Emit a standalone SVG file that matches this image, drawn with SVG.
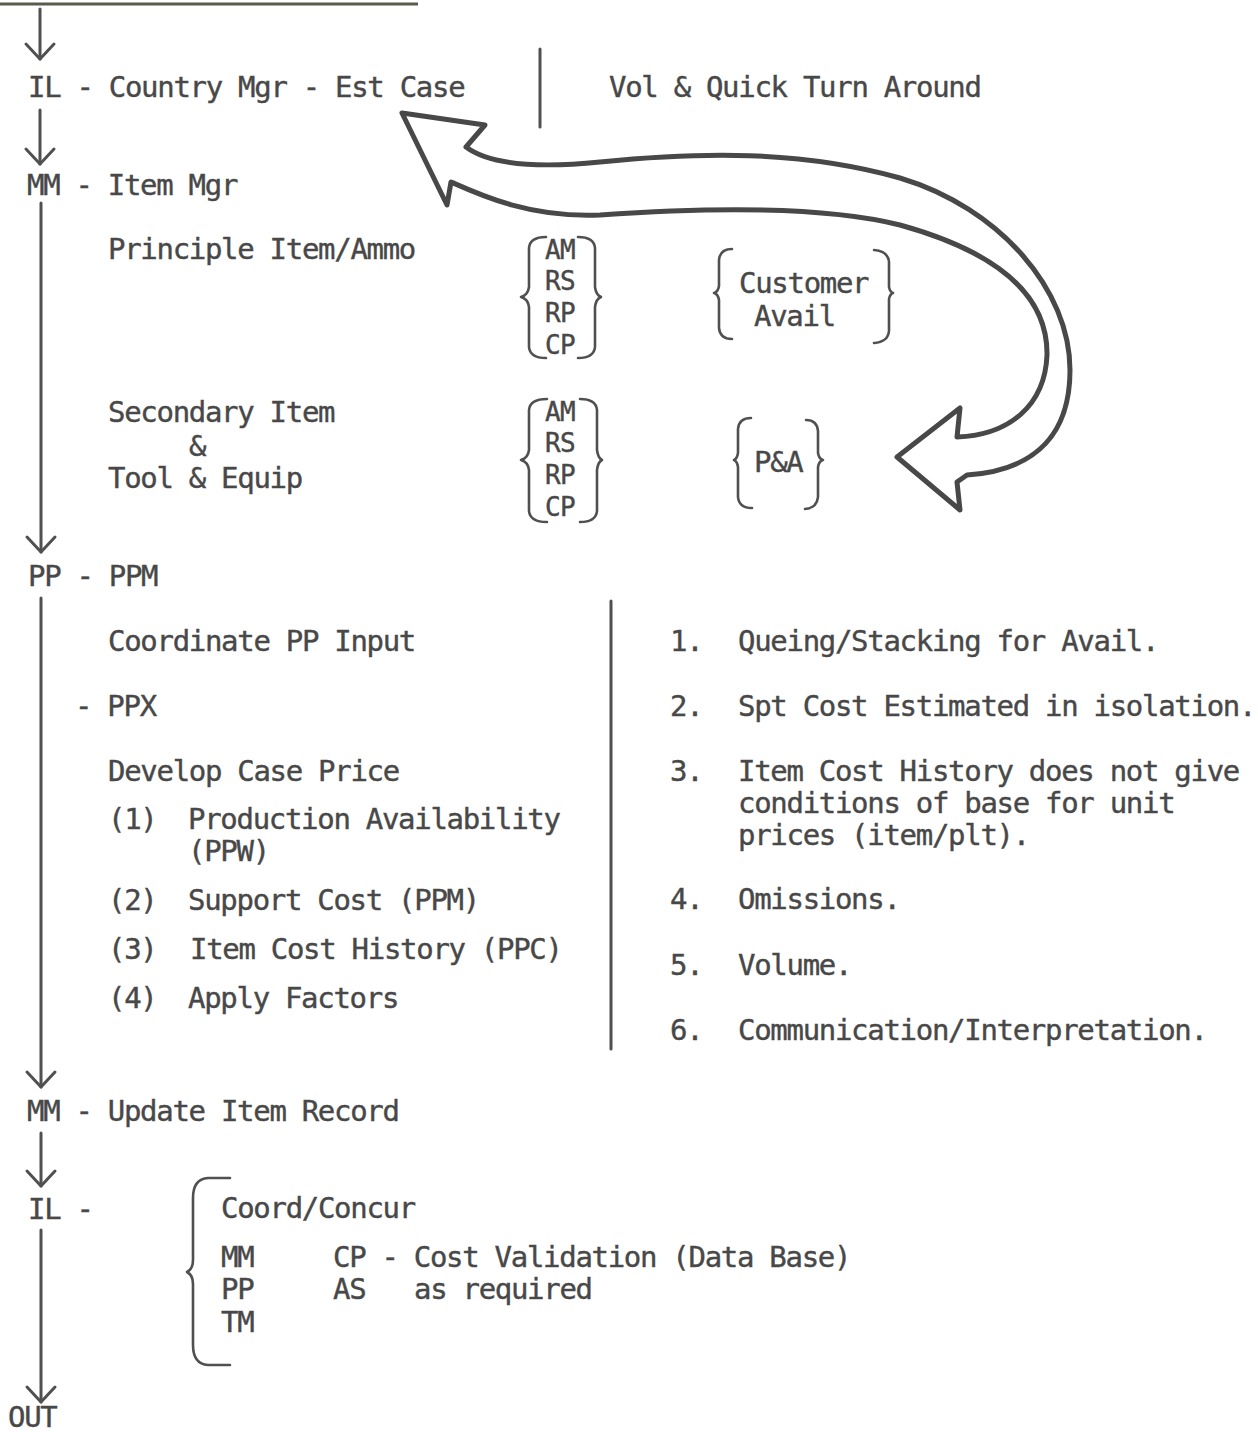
<svg xmlns="http://www.w3.org/2000/svg" width="1258" height="1432" viewBox="0 0 1258 1432">
<defs>
<style>
text{font-family:"DejaVu Sans Mono","Liberation Mono",monospace;font-size:29px;fill:#484848;stroke:#484848;stroke-width:0.4px;letter-spacing:-1.3px}
.sm{font-size:26px;letter-spacing:-0.6px}
.ln{stroke:#505050;stroke-width:3;fill:none;stroke-linecap:round}
.br{stroke:#505050;stroke-width:2.6;fill:none;stroke-linecap:round;stroke-linejoin:round}
.big{stroke:#484848;stroke-width:5;fill:none;stroke-linejoin:round}
</style>
<marker id="chev" viewBox="-20 -20 40 40" markerWidth="40" markerHeight="40" refX="0" refY="0" markerUnits="userSpaceOnUse" orient="auto" overflow="visible">
<path d="M -15 -14 L 0 0 L -15 14" fill="none" stroke="#505050" stroke-width="3" stroke-linecap="round" stroke-linejoin="round"/>
</marker>
</defs>
<rect width="1258" height="1432" fill="#ffffff"/>

<line x1="0" y1="4" x2="418" y2="4" stroke="#5a5a50" stroke-width="3"/>

<g id="connectors">
<line class="ln" x1="40" y1="9" x2="40" y2="59" marker-end="url(#chev)"/>
<line class="ln" x1="40" y1="110" x2="40" y2="164" marker-end="url(#chev)"/>
<line class="ln" x1="41" y1="203" x2="41" y2="552" marker-end="url(#chev)"/>
<line class="ln" x1="41" y1="598" x2="41" y2="1087" marker-end="url(#chev)"/>
<line class="ln" x1="41" y1="1133" x2="41" y2="1186" marker-end="url(#chev)"/>
<line class="ln" x1="41" y1="1230" x2="41" y2="1402" marker-end="url(#chev)"/>
<path id="feedback-arrow" class="big" d="M 402 113 L 485 125 L 466 147 C 490 165 540 168 600 162 C 700 152 800 150 900 178 C 1000 208 1070 290 1070 370 C 1070 430 1040 470 967 475 L 957 482 L 960 510 L 897 457 L 960 408 L 957 437 C 1010 435 1045 405 1047 355 C 1048 290 990 250 900 225 C 820 205 700 208 600 215 C 530 218 480 195 451 182 L 447 205 Z"/>
</g>

<g id="n-il-country">
<text x="28" y="97">IL - Country Mgr - Est Case</text>
</g>
<line class="ln" x1="540" y1="49" x2="540" y2="127"/>
<g id="n-vol">
<text x="609" y="97">Vol &amp; Quick Turn Around</text>
</g>

<g id="n-mm-item">
<text x="27" y="195">MM - Item Mgr</text>
</g>

<g id="n-principle">
<text x="108" y="259">Principle Item/Ammo</text>
</g>

<g id="n-stack1">
<path class="br" d="M 546 237 Q 530 237 529 248 L 529 287 Q 528 295 521 297 Q 528 299 529 307 L 529 347 Q 530 358 546 358"/>
<path class="br" d="M 578 237 Q 594 237 595 248 L 595 287 Q 596 295 601 297 Q 596 299 595 307 L 595 347 Q 594 358 578 358"/>
<text class="sm" x="545" y="259">AM</text>
<text class="sm" x="545" y="290">RS</text>
<text class="sm" x="545" y="322">RP</text>
<text class="sm" x="545" y="354">CP</text>
</g>

<g id="n-customer">
<path class="br" d="M 732 249 Q 720 249 719 260 L 719 286 Q 718 292 714 293 Q 718 294 719 300 L 719 328 Q 720 339 732 339"/>
<path class="br" d="M 874 250 Q 888 251 889 262 L 889 287 Q 890 292 893 293 Q 890 294 889 299 L 889 331 Q 888 342 874 343"/>
<text x="739" y="293">Customer</text>
<text x="754" y="326">Avail</text>
</g>

<g id="n-secondary">
<text x="108" y="422">Secondary Item</text>
<text x="189" y="456">&amp;</text>
<text x="108" y="488">Tool &amp; Equip</text>
</g>

<g id="n-stack2">
<path class="br" d="M 547 399 Q 530 399 529 410 L 529 450 Q 528 458 521 460 Q 528 462 529 470 L 529 511 Q 530 522 547 522"/>
<path class="br" d="M 580 399 Q 596 399 597 410 L 597 450 Q 598 458 602 460 Q 598 462 597 470 L 597 511 Q 596 522 580 522"/>
<text class="sm" x="545" y="421">AM</text>
<text class="sm" x="545" y="452">RS</text>
<text class="sm" x="545" y="484">RP</text>
<text class="sm" x="545" y="516">CP</text>
</g>

<g id="n-pa">
<path class="br" d="M 751 418 Q 739 418 738 429 L 738 453 Q 737 459 734 460 Q 737 461 738 467 L 738 497 Q 739 508 752 508"/>
<path class="br" d="M 806 420 Q 817 420 818 431 L 818 453 Q 819 459 823 460 Q 819 461 818 467 L 818 497 Q 817 508 805 509"/>
<text x="754" y="472">P&amp;A</text>
</g>

<g id="n-pp-ppm">
<text x="28" y="586">PP - PPM</text>
</g>

<g id="n-ppx">
<text x="108" y="651">Coordinate PP Input</text>
<text x="75" y="716">- PPX</text>
<text x="108" y="781">Develop Case Price</text>
<text x="108" y="829">(1)</text>
<text x="188" y="829">Production Availability</text>
<text x="188" y="861">(PPW)</text>
<text x="108" y="910">(2)</text>
<text x="188" y="910">Support Cost (PPM)</text>
<text x="108" y="959">(3)</text>
<text x="190" y="959">Item Cost History (PPC)</text>
<text x="108" y="1008">(4)</text>
<text x="188" y="1008">Apply Factors</text>
</g>

<line class="ln" x1="611" y1="601" x2="611" y2="1049"/>

<g id="n-issues">
<text x="670" y="651">1.</text>
<text x="738" y="651">Queing/Stacking for Avail.</text>
<text x="670" y="716">2.</text>
<text x="738" y="716">Spt Cost Estimated in isolation.</text>
<text x="670" y="781">3.</text>
<text x="738" y="781">Item Cost History does not give</text>
<text x="738" y="813">conditions of base for unit</text>
<text x="738" y="845">prices (item/plt).</text>
<text x="670" y="909">4.</text>
<text x="738" y="909">Omissions.</text>
<text x="670" y="975">5.</text>
<text x="738" y="975">Volume.</text>
<text x="670" y="1040">6.</text>
<text x="738" y="1040">Communication/Interpretation.</text>
</g>

<g id="n-mm-update">
<text x="27" y="1121">MM - Update Item Record</text>
</g>

<g id="n-il-coord">
<text x="28" y="1219">IL -</text>
<path class="br" d="M 230 1178 L 208 1178 Q 193 1179 193 1198 L 193 1260 Q 193 1269 187 1272 Q 193 1275 193 1284 L 193 1345 Q 193 1364 208 1365 L 230 1365"/>
<text x="221" y="1218">Coord/Concur</text>
<text x="221" y="1267">MM</text>
<text x="333" y="1267">CP - Cost Validation (Data Base)</text>
<text x="221" y="1299">PP</text>
<text x="333" y="1299">AS</text>
<text x="414" y="1299">as required</text>
<text x="221" y="1332">TM</text>
</g>

<g id="n-out">
<text x="8" y="1427">OUT</text>
</g>
</svg>
